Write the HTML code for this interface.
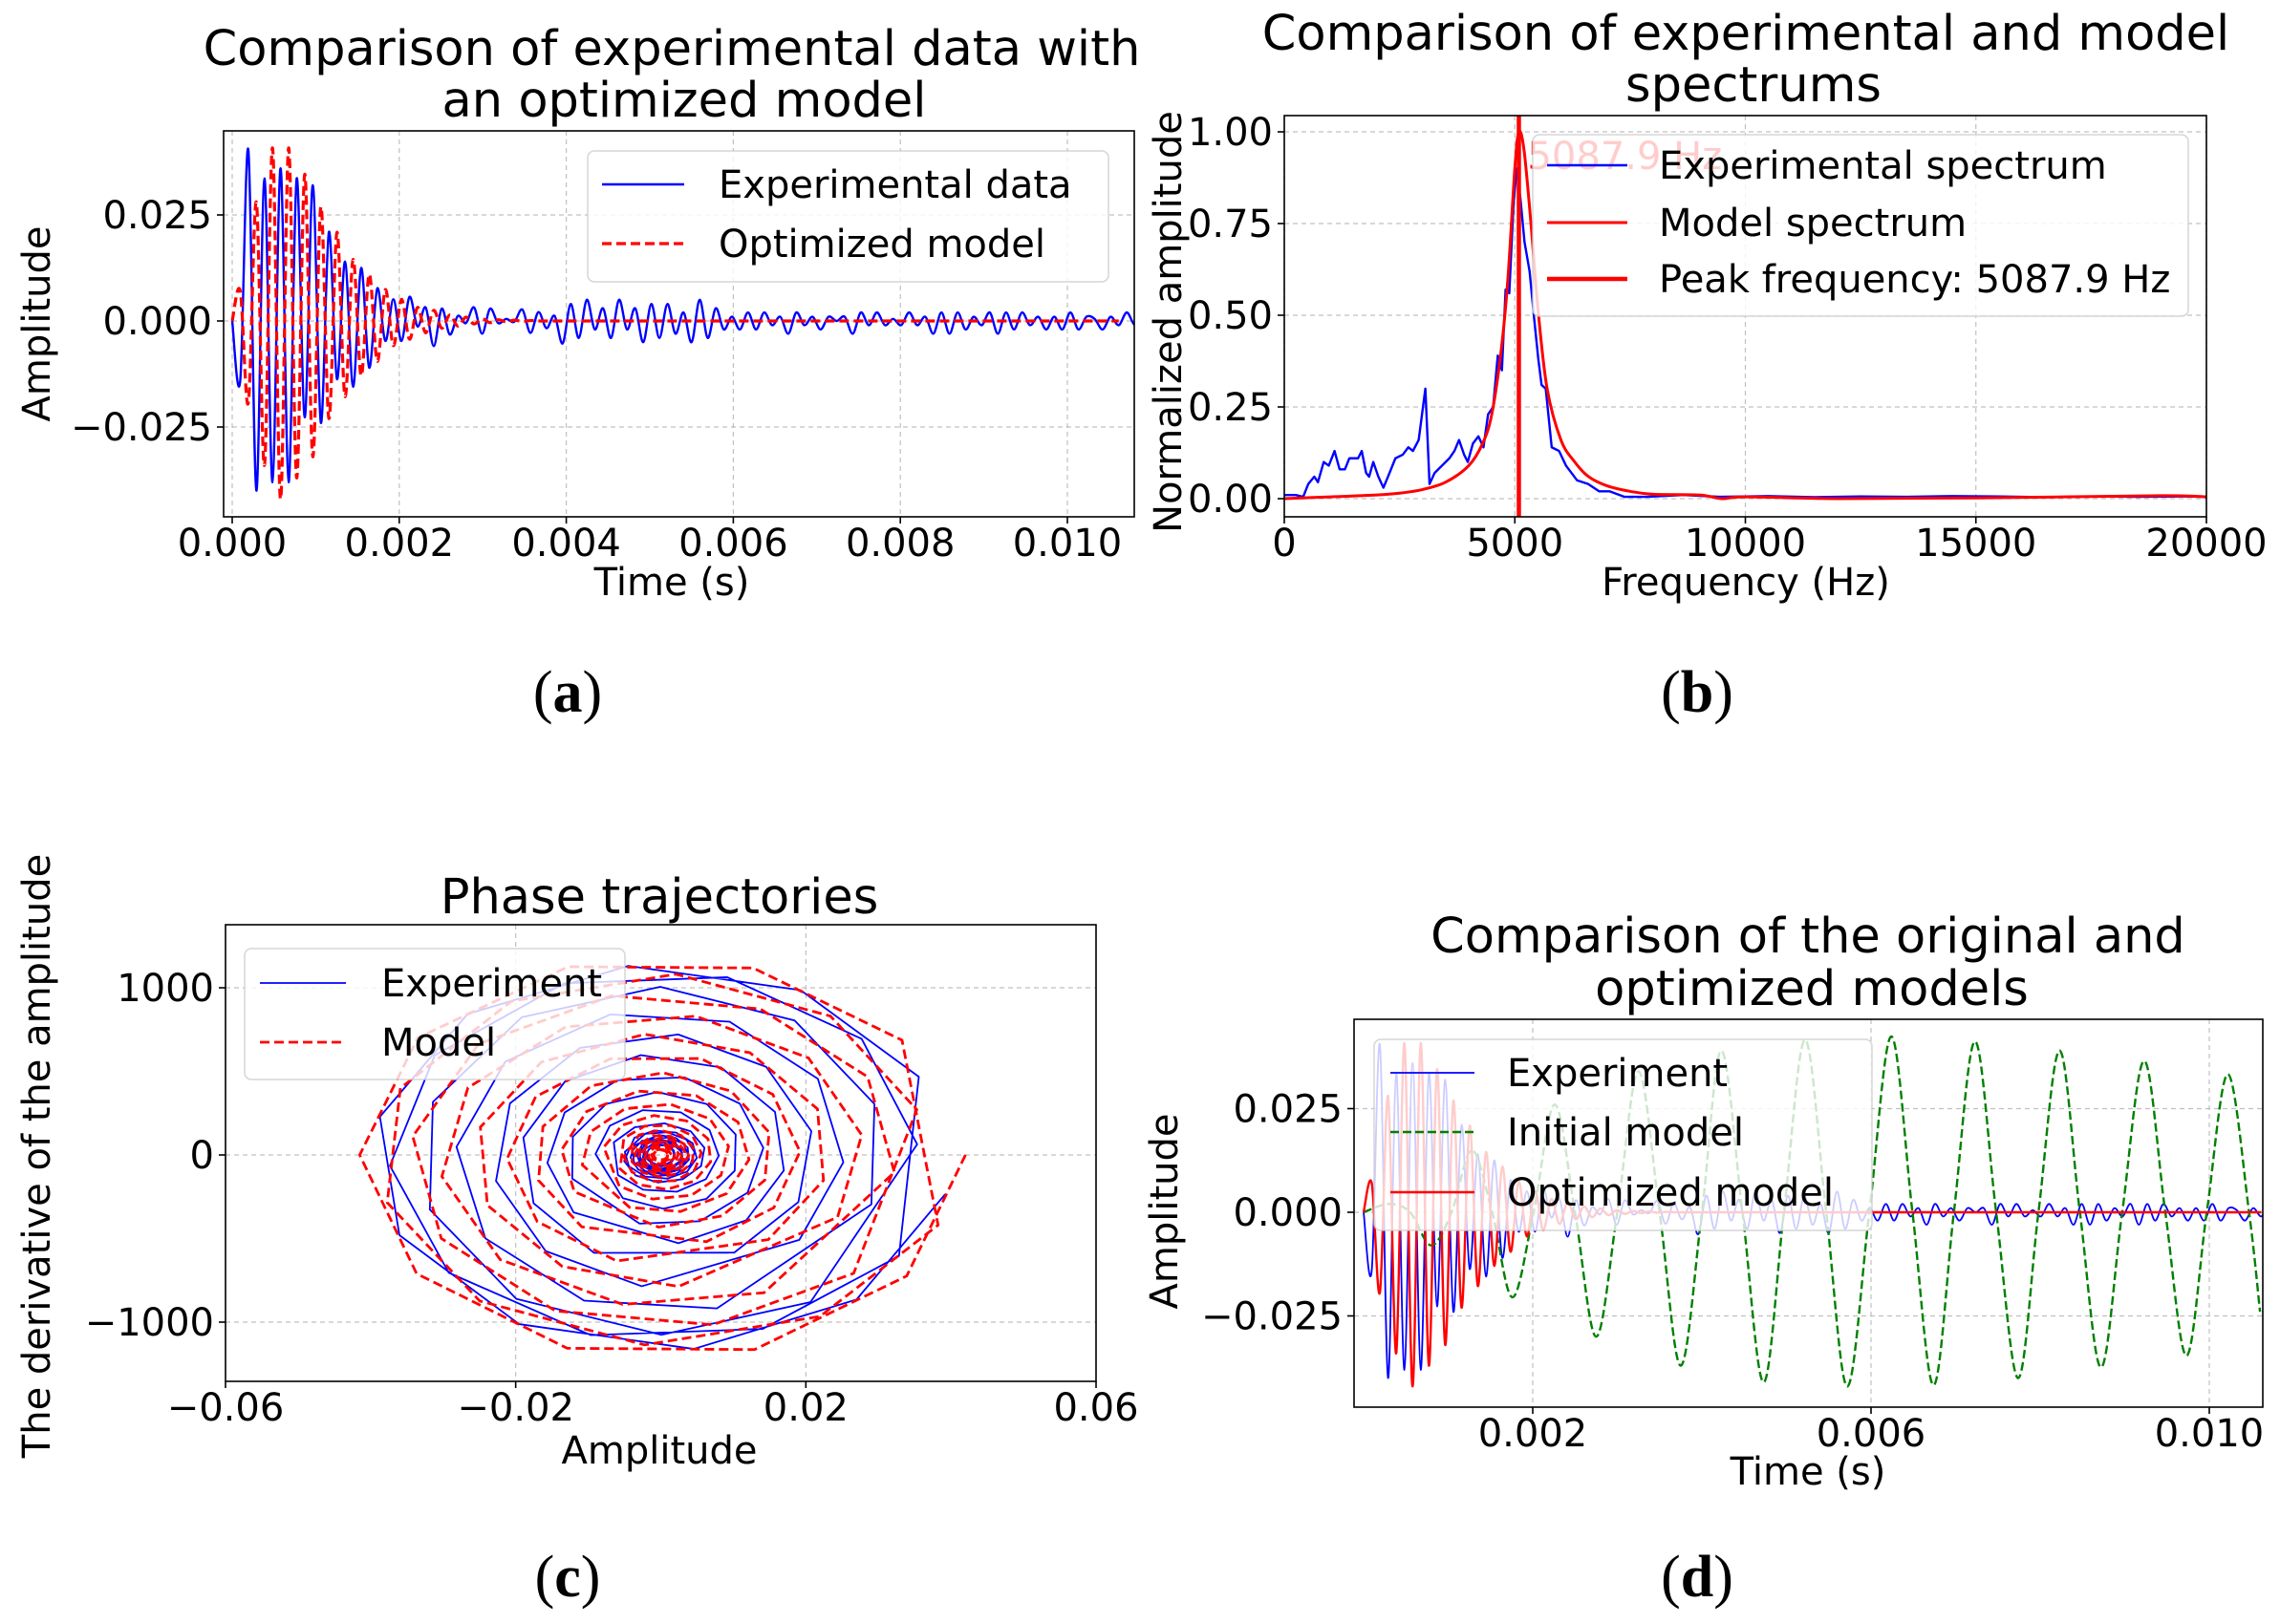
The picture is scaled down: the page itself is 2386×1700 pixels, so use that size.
<!DOCTYPE html>
<html><head><meta charset="utf-8"><style>
html,body{margin:0;padding:0;background:#fff;}
svg{display:block;font-family:"DejaVu Sans","Liberation Sans",sans-serif;}
</style></head><body>
<svg id="fig" xmlns="http://www.w3.org/2000/svg" width="2386" height="1700" viewBox="0 0 2386 1700">
<rect x="0" y="0" width="2386" height="1700" fill="#fff"/>
<defs>
<clipPath id="clipA"><rect x="234" y="137" width="953" height="404"/></clipPath>
<clipPath id="clipB"><rect x="1344" y="121" width="965" height="420"/></clipPath>
<clipPath id="clipC"><rect x="236" y="968" width="911" height="478"/></clipPath>
<clipPath id="clipD"><rect x="1417" y="1067" width="951" height="406"/></clipPath>
</defs>
<g id="root"></g>
</svg>
<script>
// ---------- DATA ----------
const halfStep = 0.0000965;
const expValues = [0, -0.014, 0.0404, -0.040, 0.0336, -0.038, 0.036, -0.038, 0.0336, -0.0227, 0.032, -0.024, 0.021, -0.0137, 0.014, -0.0155, 0.0125, -0.011, 0.0077, -0.0047, 0.0051, -0.0047, 0.0057, -0.0013, 0.0032, -0.0059, 0.0029, -0.0032, 0.0012, -0.0005, 0.0032, -0.003, 0.0029, -0.0005, 0.0005, -0.0002, 0.0027, -0.0028, 0.0021, -0.0017, 0.0012, -0.0053, 0.004, -0.004, 0.005, -0.002, 0.003, -0.004, 0.005, -0.002, 0.003, -0.005, 0.004, -0.004, 0.004, -0.003, 0.002, -0.005, 0.005, -0.004, 0.003, -0.002, 0.001, -0.002, 0.002, -0.002, 0.002, -0.001, 0.001, -0.003, 0.002, -0.001, 0.001, -0.002, 0.001, 0.000, 0.001, -0.003, 0.002, -0.001, 0.002, -0.001, 0.0005, -0.001, 0.002, -0.001, 0.001, -0.003, 0.002, -0.003, 0.002, -0.002, 0.001, -0.001, 0.002, -0.003, 0.002, -0.002, 0.002, -0.001, 0.001, -0.002, 0.001, -0.002, 0.002, -0.002, 0.001, 0.0005, -0.002, 0.001, -0.001, 0.002, -0.001, 0.0005];
const modelValues = [0, 0.007, -0.0193, 0.028, -0.034, 0.0408, -0.042, 0.0408, -0.037, 0.0346, -0.032, 0.0269, -0.023, 0.0209, -0.0178, 0.0145, -0.0129, 0.011, -0.0095, 0.0074, -0.0058, 0.0051, -0.0043, 0.0032, -0.0028, 0.0025, -0.0017, 0.0014, -0.0012, 0.0009, -0.0007, 0.0005, -0.0004, 0.0003, -0.0002, 0.0002, -0.0001, 0.0001, 0, 0, 0, 0, 0, 0, 0, 0, 0, 0, 0, 0, 0, 0, 0, 0, 0, 0, 0, 0, 0, 0, 0, 0, 0, 0, 0, 0, 0, 0, 0, 0, 0, 0, 0, 0, 0, 0, 0, 0, 0, 0, 0, 0, 0, 0, 0, 0, 0, 0, 0, 0, 0, 0, 0, 0, 0, 0, 0, 0, 0, 0, 0, 0, 0, 0, 0, 0, 0, 0, 0, 0, 0];
const initT = [0, 0.0003, 0.00055, 0.0008, 0.00104, 0.00128, 0.00152, 0.00176, 0.00201, 0.00226, 0.0025, 0.00275, 0.003, 0.00325, 0.0035, 0.00375, 0.004, 0.00423, 0.00448, 0.00473, 0.00497, 0.00522, 0.00547, 0.00572, 0.00598, 0.00624, 0.00649, 0.00674, 0.00698, 0.00723, 0.00748, 0.00774, 0.00798, 0.00823, 0.00847, 0.00872, 0.00897, 0.00923, 0.00948, 0.00973, 0.00997, 0.01022, 0.01047, 0.0106];
const initV = [0, 0.002, 0, -0.008, 0, 0.015, 0, -0.0205, 0, 0.026, 0, -0.030, 0, 0.034, 0, -0.037, 0, 0.039, 0, -0.041, 0, 0.0416, 0, -0.042, 0, 0.0424, 0, -0.0417, 0, 0.0412, 0, -0.040, 0, 0.039, 0, -0.0374, 0, 0.0365, 0, -0.0346, 0, 0.0333, 0, -0.024];
const specExpF = [0, 100, 250, 410, 520, 650, 730, 855, 965, 1090, 1200, 1315, 1410, 1600, 1680, 1775, 1840, 1930, 2040, 2150, 2250, 2410, 2570, 2690, 2790, 2915, 3060, 3150, 3260, 3420, 3580, 3690, 3790, 3900, 3980, 4090, 4210, 4320, 4420, 4530, 4630, 4720, 4800, 4880, 4970, 5040, 5120, 5210, 5320, 5420, 5510, 5580, 5670, 5800, 5960, 6110, 6350, 6590, 6830, 7060, 7380, 7860, 8650, 9440, 10500, 11500, 12500, 13500, 14500, 15500, 16500, 17500, 18500, 19500, 20000];
const specExpV = [0.01, 0.01, 0.01, 0.005, 0.04, 0.06, 0.045, 0.10, 0.09, 0.13, 0.08, 0.08, 0.11, 0.11, 0.13, 0.07, 0.06, 0.10, 0.06, 0.03, 0.06, 0.11, 0.12, 0.14, 0.13, 0.16, 0.30, 0.04, 0.07, 0.09, 0.11, 0.13, 0.16, 0.12, 0.10, 0.15, 0.17, 0.14, 0.23, 0.25, 0.39, 0.35, 0.57, 0.56, 0.80, 0.90, 0.82, 0.70, 0.62, 0.49, 0.38, 0.31, 0.30, 0.14, 0.13, 0.09, 0.05, 0.04, 0.02, 0.02, 0.005, 0.005, 0.01, 0.005, 0.007, 0.004, 0.006, 0.005, 0.007, 0.006, 0.004, 0.006, 0.005, 0.006, 0.005];
const specModF = [0, 1000, 2000, 2500, 3000, 3500, 4000, 4300, 4500, 4700, 4850, 5000, 5088, 5200, 5350, 5500, 5700, 6000, 6300, 6600, 7000, 7500, 8000, 9000, 9500, 10000, 12000, 15000, 19000, 20000];
const specModV = [0.0, 0.005, 0.01, 0.015, 0.025, 0.045, 0.09, 0.15, 0.23, 0.40, 0.60, 0.90, 1.0, 0.95, 0.75, 0.52, 0.30, 0.16, 0.10, 0.06, 0.035, 0.02, 0.012, 0.01, 0.0, 0.005, 0.0, 0.002, 0.008, 0.005];
const peakFreq = [5087.9];
const phaseModelAmp = [0.042, 0.041, 0.036, 0.032, 0.027, 0.022, 0.018, 0.014, 0.011, 0.008, 0.006, 0.005, 0.004, 0.0035, 0.003, 0.0025, 0.002, 0.0015, 0.001];
const phaseModelDer = [1240, 1160, 1050, 920, 790, 660, 540, 420, 330, 250, 190, 150, 120, 105, 90, 75, 60, 45, 30];
const phaseExpAmp = [0.040, 0.039, 0.035, 0.030, 0.024, 0.020, 0.016, 0.013, 0.009, 0.007, 0.005, 0.005, 0.004, 0.004, 0.003, 0.003, 0.003, 0.002, 0.002];
const phaseExpDer = [1180, 1120, 1090, 950, 790, 660, 520, 410, 300, 200, 150, 140, 120, 110, 100, 90, 90, 70, 60];
const ticksA_x = [0, 0.002, 0.004, 0.006, 0.008, 0.010];
const ticksA_xl = ["0.000", "0.002", "0.004", "0.006", "0.008", "0.010"];
const ticksAmp = [-0.025, 0, 0.025];
const ticksAmpL = ["\u22120.025", "0.000", "0.025"];
const ticksB_x = [0, 5000, 10000, 15000, 20000];
const ticksB_y = [0, 0.25, 0.5, 0.75, 1.0];
const ticksB_yl = ["0.00", "0.25", "0.50", "0.75", "1.00"];
const ticksC_x = [-0.06, -0.02, 0.02, 0.06];
const ticksC_xl = ["\u22120.06", "\u22120.02", "0.02", "0.06"];
const ticksC_y = [-1000, 0, 1000];
const ticksC_yl = ["\u22121000", "0", "1000"];
const ticksD_x = [0.002, 0.006, 0.010];
const ticksD_xl = ["0.002", "0.006", "0.010"];

// ---------- HELPERS ----------
const NS = 'http://www.w3.org/2000/svg';
const root = document.getElementById('root');
function mk(tag, attrs, parent) {
  const e = document.createElementNS(NS, tag);
  for (const k in attrs) e.setAttribute(k, attrs[k]);
  (parent || root).appendChild(e);
  return e;
}
function smoothPath(pts) {
  if (pts.length < 2) return '';
  let d = 'M' + pts[0][0].toFixed(2) + ',' + pts[0][1].toFixed(2);
  for (let i = 0; i < pts.length - 1; i++) {
    const p0 = pts[i - 1] || pts[i], p1 = pts[i], p2 = pts[i + 1], p3 = pts[i + 2] || p2;
    const c1x = p1[0] + (p2[0] - p0[0]) / 6, c1y = p1[1] + (p2[1] - p0[1]) / 6;
    const c2x = p2[0] - (p3[0] - p1[0]) / 6, c2y = p2[1] - (p3[1] - p1[1]) / 6;
    d += ' C' + c1x.toFixed(2) + ',' + c1y.toFixed(2) + ' ' + c2x.toFixed(2) + ',' + c2y.toFixed(2) + ' ' + p2[0].toFixed(2) + ',' + p2[1].toFixed(2);
  }
  return d;
}
function linePath(pts) {
  return pts.map((p, i) => (i ? 'L' : 'M') + p[0].toFixed(2) + ',' + p[1].toFixed(2)).join(' ');
}
function txt(parent, x, y, s, size, anchor, extra) {
  const t = mk('text', Object.assign({x: x, y: y, 'font-size': size, 'text-anchor': anchor || 'start', fill: '#000'}, extra || {}), parent);
  t.textContent = s;
  return t;
}
function legend(g, x, y, w, h, items) {
  const box = mk('rect', {x: x, y: y, width: w, height: h, rx: 7, fill: '#fff', 'fill-opacity': 0.8, stroke: '#ccc', 'stroke-opacity': 0.8, 'stroke-width': 1.5}, g);
  
  
  items.forEach(it => {
    const ln = mk('line', {x1: it.lx1, x2: it.lx2, y1: it.y, y2: it.y, stroke: it.color, 'stroke-width': it.w, 'stroke-dasharray': it.dash || 'none'}, g);
    
    
    const t = txt(g, it.tx, it.y + 14, it.label, 40);
    
    
  });
}
function frame(g, l, t, r, b) {
  const f = mk('rect', {x: l, y: t, width: r - l, height: b - t, fill: 'none', stroke: '#000', 'stroke-width': 1.6}, g);
  
  
}
function grid(g, isX, pos, a, b) {
  const attrs = isX ? {x1: pos, x2: pos, y1: a, y2: b} : {x1: a, x2: b, y1: pos, y2: pos};
  Object.assign(attrs, {stroke: '#b0b0b0', 'stroke-width': 1.2, 'stroke-dasharray': '5,4', 'stroke-opacity': 0.8});
  const gl = mk('line', attrs, g);
  
  
}
function tickX(g, px, yb, label) {
  const tk = mk('line', {x1: px, x2: px, y1: yb, y2: yb + 7, stroke: '#000', 'stroke-width': 1.6}, g);
  
  
  const t = txt(g, px, yb + 41, label, 40, 'middle');
  
  
}
function tickY(g, py, xl, label) {
  const tk = mk('line', {x1: xl - 7, x2: xl, y1: py, y2: py, stroke: '#000', 'stroke-width': 1.6}, g);
  
  
  const t = txt(g, xl - 12, py + 14, label, 40, 'end');
  
  
}
function ylabel(g, x, y, s) {
  const t = txt(g, x, y, s, 40, 'middle', {transform: 'rotate(-90 ' + x + ' ' + y + ')'});
  
  
}
function xlabel(g, x, y, s) {
  const t = txt(g, x, y, s, 40, 'middle');
  
  
}
function title(g, x, y, s) {
  const t = txt(g, x, y, s, 51, 'middle');
  
  
}
function panelLabel(x, y, letter) {
  const t = mk('text', {x: x, y: y, 'font-size': 62, 'text-anchor': 'middle', 'font-family': '"Liberation Serif", "DejaVu Serif", serif'});
  
  
  const a = mk('tspan', {}, t); a.textContent = '(';
  const b = mk('tspan', {'font-weight': 'bold'}, t); b.textContent = letter;
  const c = mk('tspan', {}, t); c.textContent = ')';
}
function timeSeries(vals) { return vals.map((v, i) => [i * halfStep, v]); }

// ---------- PANEL A ----------
(function () {
  const g = mk('g', {});
  
  
  const L = 234, T = 137, R = 1187, B = 541;
  const X = t => 243 + t * 87400;
  const Y = v => 336 - v * 4440;
  ticksA_x.forEach(t => grid(g, true, X(t), T, B));
  ticksAmp.forEach(v => grid(g, false, Y(v), L, R));
  const data = mk('g', {'clip-path': 'url(#clipA)'}, g);
  const pe = mk('path', {d: smoothPath(timeSeries(expValues).map(p => [X(p[0]), Y(p[1])])), fill: 'none', stroke: '#0000ff', 'stroke-width': 2.4}, data);
  
  
  const pm = mk('path', {d: smoothPath(timeSeries(modelValues).map(p => [X(p[0]), Y(p[1])])), fill: 'none', stroke: '#ff0000', 'stroke-width': 3.2, 'stroke-dasharray': '10,5'}, data);
  
  
  frame(g, L, T, R, B);
  ticksA_x.forEach((t, i) => tickX(g, X(t), B, ticksA_xl[i]));
  ticksAmp.forEach((v, i) => tickY(g, Y(v), L, ticksAmpL[i]));
  title(g, 703, 68, 'Comparison of experimental data with');
  title(g, 716, 122, 'an optimized model');
  xlabel(g, 703, 623, 'Time (s)');
  ylabel(g, 52, 339, 'Amplitude');
  legend(g, 615, 158, 545, 137, [
    {lx1: 630, lx2: 716, tx: 752, y: 193, color: '#0000ff', w: 2.4, label: 'Experimental data'},
    {lx1: 630, lx2: 716, tx: 752, y: 255, color: '#ff0000', w: 3.2, dash: '10,5', label: 'Optimized model'}
  ]);
})();

// ---------- PANEL B ----------
(function () {
  const g = mk('g', {});
  
  
  const L = 1344, T = 121, R = 2309, B = 541;
  const X = f => 1344 + f * (965 / 20000);
  const Y = v => 522 - v * 384;
  ticksB_x.forEach(f => grid(g, true, X(f), T, B));
  ticksB_y.forEach(v => grid(g, false, Y(v), L, R));
  const data = mk('g', {'clip-path': 'url(#clipB)'}, g);
  const pe = mk('path', {d: linePath(specExpF.map((f, i) => [X(f), Y(specExpV[i])])), fill: 'none', stroke: '#0000ff', 'stroke-width': 2.4, 'stroke-linejoin': 'round'}, data);
  
  
  const pm = mk('path', {d: smoothPath(specModF.map((f, i) => [X(f), Y(specModV[i])])), fill: 'none', stroke: '#ff0000', 'stroke-width': 3}, data);
  
  
  const pk = mk('line', {x1: X(peakFreq[0]), x2: X(peakFreq[0]), y1: T, y2: B, stroke: '#ff0000', 'stroke-width': 4.5}, data);
  
  
  const pt = txt(g, X(peakFreq[0]) + 9, 177, peakFreq[0].toFixed(1) + ' Hz', 40, 'start', {fill: '#ff0000'});
  
  
  frame(g, L, T, R, B);
  ticksB_x.forEach(f => tickX(g, X(f), B, String(f)));
  ticksB_y.forEach((v, i) => tickY(g, Y(v), L, ticksB_yl[i]));
  title(g, 1827, 52, 'Comparison of experimental and model');
  title(g, 1835, 106, 'spectrums');
  xlabel(g, 1827, 623, 'Frequency (Hz)');
  ylabel(g, 1236, 337, 'Normalized amplitude');
  legend(g, 1604, 141, 686, 190, [
    {lx1: 1619, lx2: 1703, tx: 1736, y: 173, color: '#0000ff', w: 2.4, label: 'Experimental spectrum'},
    {lx1: 1619, lx2: 1703, tx: 1736, y: 233, color: '#ff0000', w: 3, label: 'Model spectrum'},
    {lx1: 1619, lx2: 1703, tx: 1736, y: 292, color: '#ff0000', w: 4.5, label: 'Peak frequency: 5087.9 Hz'}
  ]);
})();

// ---------- PANEL C ----------
(function () {
  const g = mk('g', {});
  
  
  const L = 236, T = 968, R = 1147, B = 1446;
  const X = a => 691.5 + a * 7592;
  const Y = d => 1209 - d * 0.175;
  ticksC_x.forEach(a => grid(g, true, X(a), T, B));
  ticksC_y.forEach(d => grid(g, false, Y(d), L, R));
  const data = mk('g', {'clip-path': 'url(#clipC)'}, g);
  function spiral(amps, ders, start) {
    const pts = [];
    const n = 10;
    for (let i = 0; i < amps.length; i++) {
      const a0 = amps[i], a1 = amps[i + 1] !== undefined ? amps[i + 1] : amps[i];
      const d0 = ders[i], d1 = ders[i + 1] !== undefined ? ders[i + 1] : ders[i];
      for (let k = 0; k < n; k++) {
        const f = k / n;
        const th = start + i * 0.37 + k * 2 * Math.PI / n;
        const a = a0 + (a1 - a0) * f, d = d0 + (d1 - d0) * f;
        pts.push([X(a * Math.cos(th)), Y(-d * Math.sin(th))]);
      }
    }
    return pts;
  }
  const pe = mk('path', {d: linePath(spiral(phaseExpAmp, phaseExpDer, 0.2)), fill: 'none', stroke: '#0000ff', 'stroke-width': 1.8, 'stroke-linejoin': 'round'}, data);
  
  
  const pm = mk('path', {d: linePath(spiral(phaseModelAmp, phaseModelDer, 0)), fill: 'none', stroke: '#ff0000', 'stroke-width': 2.8, 'stroke-dasharray': '10,5'}, data);
  
  
  frame(g, L, T, R, B);
  ticksC_x.forEach((a, i) => tickX(g, X(a), B, ticksC_xl[i]));
  ticksC_y.forEach((d, i) => tickY(g, Y(d), L, ticksC_yl[i]));
  title(g, 690, 956, 'Phase trajectories');
  xlabel(g, 690, 1532, 'Amplitude');
  ylabel(g, 52, 1210, 'The derivative of the amplitude');
  legend(g, 256, 993, 398, 137, [
    {lx1: 272, lx2: 362, tx: 399, y: 1029, color: '#0000ff', w: 1.8, label: 'Experiment'},
    {lx1: 272, lx2: 362, tx: 399, y: 1091, color: '#ff0000', w: 2.8, dash: '10,5', label: 'Model'}
  ]);
})();

// ---------- PANEL D ----------
(function () {
  const g = mk('g', {});
  
  
  const L = 1417, T = 1067, R = 2368, B = 1473;
  const X = t => 1427 + t * 88500;
  const Y = v => 1269 - v * 4340;
  ticksD_x.forEach(t => grid(g, true, X(t), T, B));
  ticksAmp.forEach(v => grid(g, false, Y(v), L, R));
  const data = mk('g', {'clip-path': 'url(#clipD)'}, g);
  const pe = mk('path', {d: smoothPath(timeSeries(expValues).map(p => [X(p[0]), Y(p[1])])), fill: 'none', stroke: '#0000ff', 'stroke-width': 1.8}, data);
  
  
  const pi = mk('path', {d: smoothPath(initT.map((t, i) => [X(t), Y(initV[i])])), fill: 'none', stroke: '#008000', 'stroke-width': 2.4, 'stroke-dasharray': '9,4'}, data);
  
  
  const pm = mk('path', {d: smoothPath(timeSeries(modelValues).map(p => [X(p[0]), Y(p[1])])), fill: 'none', stroke: '#ff0000', 'stroke-width': 2.4}, data);
  
  
  frame(g, L, T, R, B);
  ticksD_x.forEach((t, i) => tickX(g, X(t), B, ticksD_xl[i]));
  ticksAmp.forEach((v, i) => tickY(g, Y(v), L, ticksAmpL[i]));
  title(g, 1892, 997, 'Comparison of the original and');
  title(g, 1896, 1052, 'optimized models');
  xlabel(g, 1892, 1554, 'Time (s)');
  ylabel(g, 1232, 1268, 'Amplitude');
  legend(g, 1438, 1088, 521, 200, [
    {lx1: 1455, lx2: 1543, tx: 1577, y: 1123, color: '#0000ff', w: 1.8, label: 'Experiment'},
    {lx1: 1455, lx2: 1543, tx: 1577, y: 1185, color: '#008000', w: 2.4, dash: '9,4', label: 'Initial model'},
    {lx1: 1455, lx2: 1543, tx: 1577, y: 1248, color: '#ff0000', w: 2.4, label: 'Optimized model'}
  ]);
})();

panelLabel(594, 745, 'a');
panelLabel(1776, 745, 'b');
panelLabel(594, 1671, 'c');
panelLabel(1776, 1671, 'd');
</script>
</body></html>
